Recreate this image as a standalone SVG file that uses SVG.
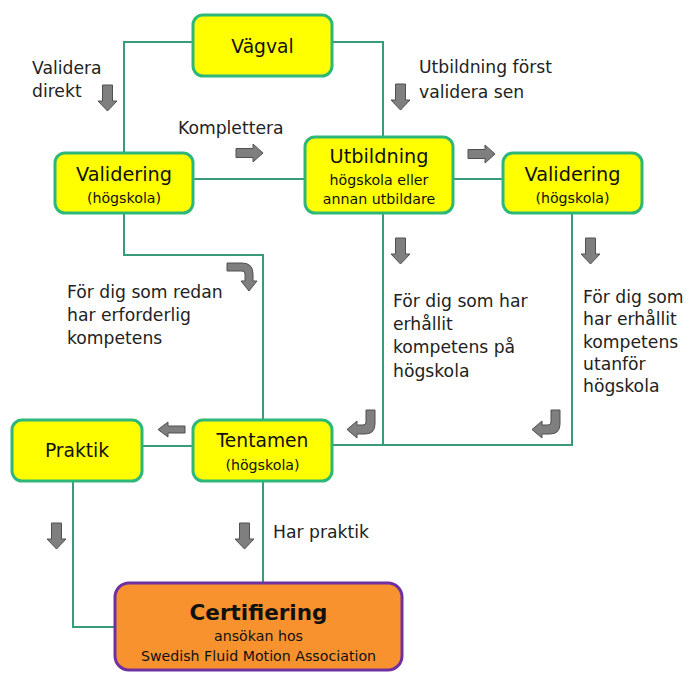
<svg xmlns="http://www.w3.org/2000/svg" width="686" height="673" viewBox="0 0 686 673">
<defs>
<style>
.box{fill:#FFFF00;stroke:#2DB87A;stroke-width:3}
.cert{fill:#F8922E;stroke:#7030A0;stroke-width:3}
.conn{fill:none;stroke:#3A9B78;stroke-width:2}
.arr{fill:#7F7F7F;stroke:#505050;stroke-width:1}
.t{font-family:"DejaVu Sans","Noto Sans",sans-serif;fill:#111}
.big{font-size:19.3px;text-anchor:middle}
.mid{font-size:18.7px;text-anchor:middle}
.sm{font-size:14.2px;text-anchor:middle}
.lbl{font-size:17.2px;fill:#222}
</style>
<path id="down" d="M4.5,0 H14.5 V16 H19 L9.5,26 L0,16 H4.5 Z"/>
<path id="right" d="M0,4.5 H17 V0 L27,9 L17,18 V13.5 H0 Z"/>
<path id="left" d="M27,4 H10 V0 L0,7.5 L10,15 V11 H27 Z"/>
<path id="hook" d="M19,0 L28,0 L28,14 Q28,24 18,24 L10,24 L10,28 L0,19.5 L10,11 L10,15 L16,15 Q19,15 19,12 Z"/>
<path id="bend" d="M0,0 L15,0 Q26,0 26,11 L26,18 L30,18 L22,28 L14,18 L18,18 L18,11 Q18,8 15,8 L0,8 Z"/>
</defs>
<rect width="686" height="673" fill="#FFFFFF"/>
<g id="connectors">
<path class="conn" d="M193,42 H124 V153"/>
<path class="conn" d="M332,42 H383 V137"/>
<path class="conn" d="M193,179 H305"/>
<path class="conn" d="M453,179 H503"/>
<path class="conn" d="M124,213 V255 H263 V420"/>
<path class="conn" d="M383,213 V445"/>
<path class="conn" d="M572,213 V445 H332"/>
<path class="conn" d="M193,446 H142"/>
<path class="conn" d="M73,481 V627 H115"/>
<path class="conn" d="M263,481 V583"/>
</g>
<g id="arrows">
<use href="#down" class="arr" x="98" y="85"/>
<use href="#down" class="arr" x="391" y="84"/>
<use href="#right" class="arr" x="236" y="144"/>
<use href="#right" class="arr" x="468" y="145"/>
<use href="#down" class="arr" x="391" y="238"/>
<use href="#down" class="arr" x="581" y="238"/>
<use href="#bend" class="arr" x="227" y="263"/>
<use href="#hook" class="arr" x="347" y="410"/>
<use href="#hook" class="arr" x="532" y="410"/>
<use href="#left" class="arr" x="158" y="422"/>
<use href="#down" class="arr" x="47" y="523"/>
<use href="#down" class="arr" x="235" y="523"/>
</g>
<g id="labels">
<text class="t lbl" x="32" y="74">Validera</text>
<text class="t lbl" x="32" y="97">direkt</text>
<text class="t lbl" x="178" y="134">Komplettera</text>
<text class="t lbl" x="419" y="73">Utbildning först</text>
<text class="t lbl" x="419" y="98">validera sen</text>
<text class="t lbl" x="67" y="298">För dig som redan</text>
<text class="t lbl" x="67" y="321">har erforderlig</text>
<text class="t lbl" x="67" y="344">kompetens</text>
<text class="t lbl" x="393" y="307">För dig som har</text>
<text class="t lbl" x="393" y="330">erhållit</text>
<text class="t lbl" x="393" y="353">kompetens på</text>
<text class="t lbl" x="393" y="377">högskola</text>
<text class="t lbl" x="583" y="303">För dig som</text>
<text class="t lbl" x="583" y="325">har erhållit</text>
<text class="t lbl" x="583" y="348">kompetens</text>
<text class="t lbl" x="583" y="370">utanför</text>
<text class="t lbl" x="583" y="392">högskola</text>
<text class="t lbl" x="273" y="538">Har praktik</text>
</g>
<g id="vagval">
<rect class="box" x="193" y="15" width="139" height="61" rx="10"/>
<text class="t mid" x="262.5" y="53">Vägval</text>
</g>
<g id="validering-left">
<rect class="box" x="55" y="153" width="138" height="60" rx="10"/>
<text class="t big" x="124" y="181">Validering</text>
<text class="t sm" x="124" y="203">(högskola)</text>
</g>
<g id="utbildning">
<rect class="box" x="305" y="137" width="148" height="76" rx="10"/>
<text class="t big" x="379" y="163">Utbildning</text>
<text class="t sm" x="379" y="185">högskola eller</text>
<text class="t sm" x="379" y="204">annan utbildare</text>
</g>
<g id="validering-right">
<rect class="box" x="503" y="153" width="139" height="60" rx="10"/>
<text class="t big" x="572.5" y="181">Validering</text>
<text class="t sm" x="572.5" y="203">(högskola)</text>
</g>
<g id="praktik">
<rect class="box" x="12" y="420" width="130" height="61" rx="10"/>
<text class="t mid" x="77" y="457">Praktik</text>
</g>
<g id="tentamen">
<rect class="box" x="193" y="420" width="139" height="61" rx="10"/>
<text class="t mid" x="262.5" y="447">Tentamen</text>
<text class="t sm" x="262.5" y="470">(högskola)</text>
</g>
<g id="certifiering">
<rect class="cert" x="115" y="583" width="287" height="87" rx="14"/>
<text class="t" x="258.5" y="620" font-size="21.5" font-weight="bold" text-anchor="middle">Certifiering</text>
<text class="t sm" x="258.5" y="641">ansökan hos</text>
<text class="t" x="258.5" y="661" font-size="14.2" text-anchor="middle">Swedish Fluid Motion Association</text>
</g>
</svg>
